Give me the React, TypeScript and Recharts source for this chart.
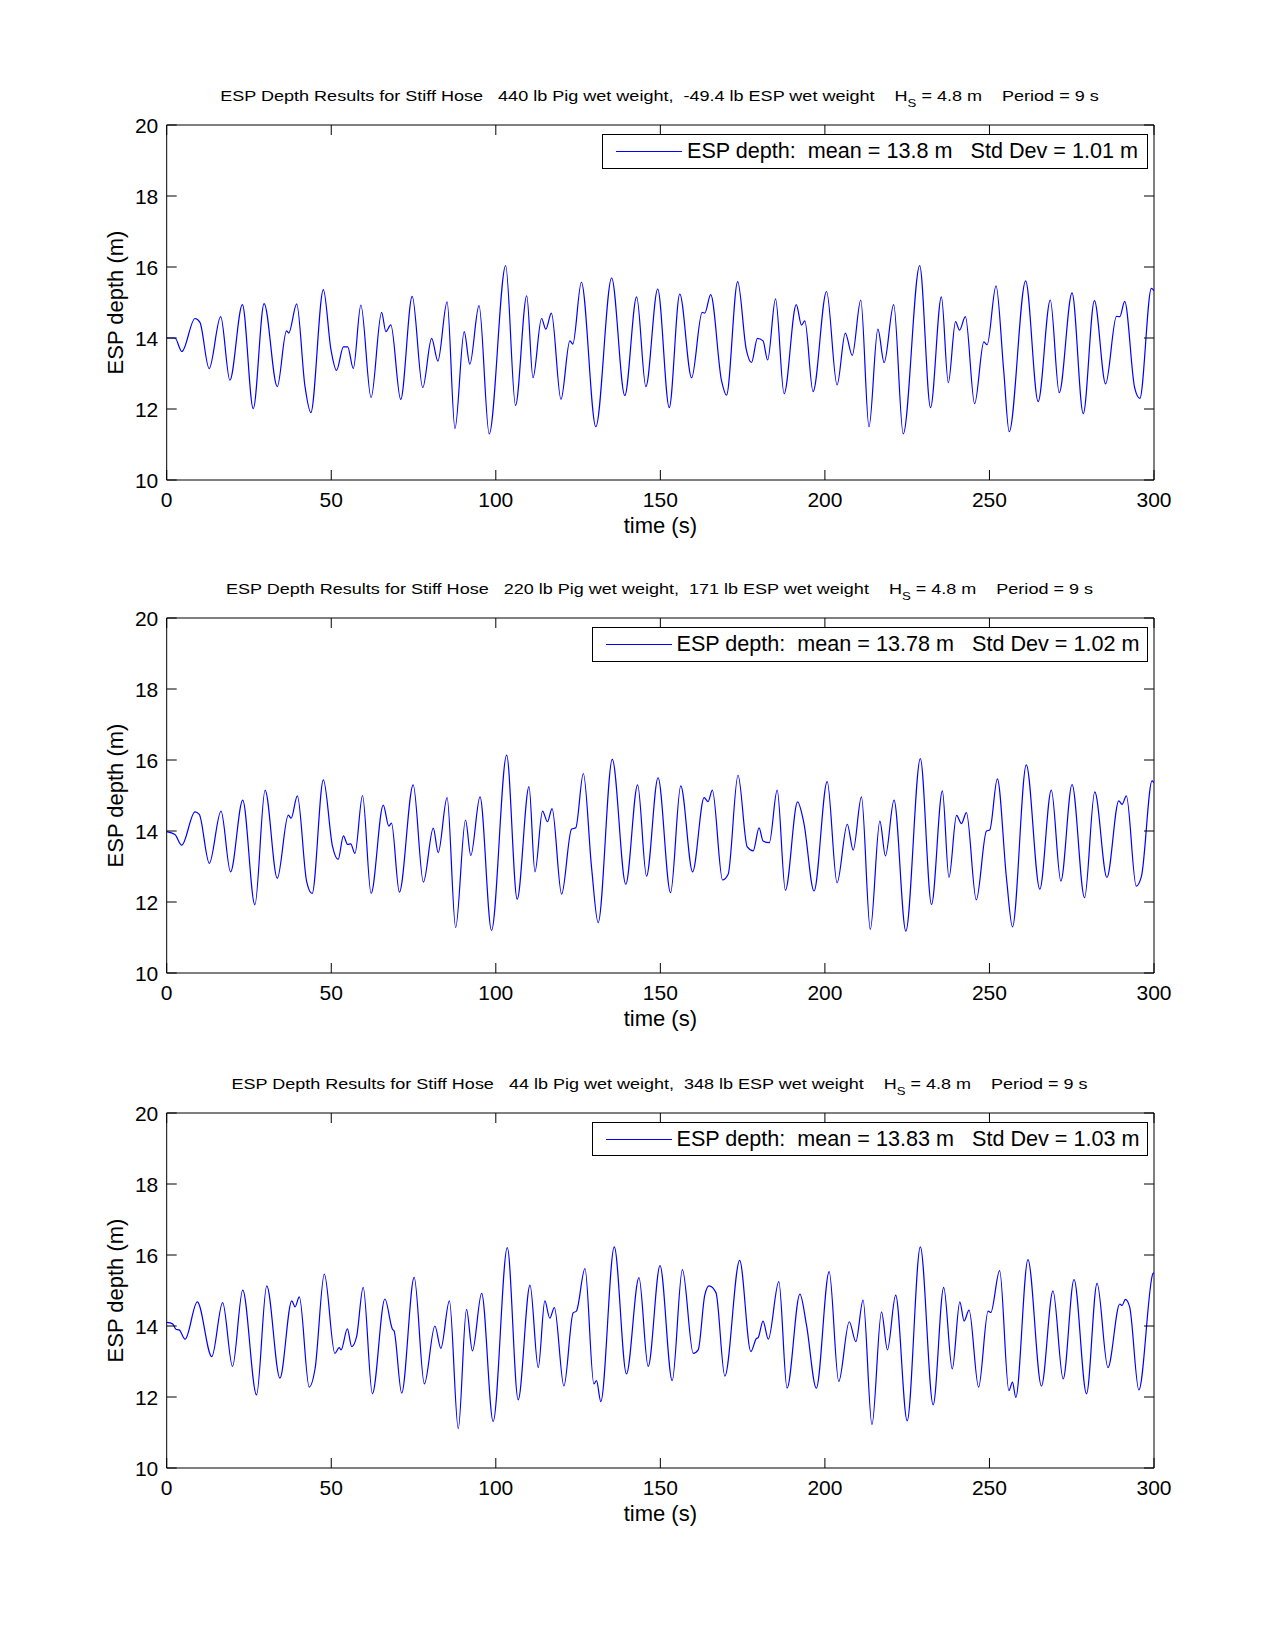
import React from 'react';
import { LineChart, Line, XAxis, YAxis, ReferenceArea, Legend } from 'recharts';

// ---------- data ----------
const TIME_TICKS = [0, 50, 100, 150, 200, 250, 300];
const DEPTH_TICKS = [10, 12, 14, 16, 18, 20];

const pigWeights = ['440', '220', '44'];
const espWeights = ['-49.4', '171', '348'];
const meanDepths = ['13.8', '13.78', '13.83'];
const stdDevs = ['1.01', '1.02', '1.03'];

const time1 = [0, 2.5, 4.6, 8.6, 10.1, 12.9, 16.4, 19.2, 23.0, 26.3, 29.6, 33.6, 36.4, 37.1, 39.5, 42.0, 43.8, 47.6, 49.9, 51.6, 53.7, 55.0, 56.7, 59.0, 62.1, 65.3, 66.6, 68.1, 71.1, 74.6, 77.8, 80.5, 82.4, 85.2, 87.6, 90.4, 92.1, 94.9, 98.0, 103.0, 106.0, 109.4, 111.3, 113.9, 115.2, 116.9, 119.8, 122.5, 123.4, 126.0, 130.4, 135.2, 139.2, 142.8, 145.6, 149.2, 152.7, 155.9, 159.5, 162.7, 163.5, 165.3, 168.6, 170.1, 173.5, 176.1, 177.7, 179.5, 181.2, 182.6, 185.0, 187.6, 191.3, 192.9, 193.9, 196.4, 200.5, 203.7, 206.2, 208.3, 210.9, 213.4, 216.1, 218.0, 220.9, 223.8, 228.8, 232.1, 235.4, 237.5, 239.7, 240.9, 242.7, 245.5, 248.3, 249.3, 252.0, 254.3, 256.0, 261.0, 264.8, 268.5, 271.2, 275.1, 278.5, 281.9, 285.3, 288.6, 289.6, 291.1, 294.1, 295.7, 299.2, 300];
const depth1 = [14.0, 14.0, 13.62, 14.55, 14.44, 13.14, 14.6, 12.81, 14.94, 12.01, 14.97, 12.63, 14.2, 14.14, 14.96, 12.65, 11.9, 15.36, 13.68, 13.09, 13.75, 13.75, 13.14, 14.93, 12.32, 14.72, 14.18, 14.37, 12.27, 15.17, 12.6, 13.99, 13.35, 15.02, 11.45, 14.18, 13.26, 14.91, 11.3, 16.04, 12.1, 15.19, 12.88, 14.55, 14.25, 14.7, 12.27, 13.92, 13.83, 15.57, 11.5, 15.69, 12.38, 15.16, 12.63, 15.38, 12.04, 15.24, 12.88, 14.72, 14.7, 15.22, 12.79, 12.39, 15.59, 13.68, 13.31, 13.99, 13.92, 13.38, 15.1, 12.43, 14.94, 14.36, 14.48, 12.49, 15.31, 12.68, 14.14, 13.51, 15.07, 11.5, 14.25, 13.31, 14.94, 11.3, 16.04, 12.04, 15.16, 12.74, 14.46, 14.22, 14.6, 12.15, 13.89, 13.81, 15.47, 13.12, 11.36, 15.61, 12.21, 15.07, 12.46, 15.27, 11.87, 15.05, 12.71, 14.61, 14.6, 15.03, 12.61, 12.3, 15.4, 15.33];

const time2 = [0, 2.5, 4.55, 8.6, 9.9, 12.95, 16.5, 19.4, 23.1, 26.8, 29.9, 33.6, 36.95, 37.8, 39.7, 42.5, 44.2, 47.6, 50.4, 52.1, 53.7, 55.0, 55.9, 57.2, 59.5, 62.1, 65.8, 67.5, 68.3, 70.7, 74.9, 78.0, 81.0, 82.5, 85.2, 87.8, 90.8, 92.4, 95.2, 98.7, 103.3, 106.5, 110.1, 111.9, 114.2, 115.7, 117.1, 120.0, 123.0, 124.3, 126.6, 129.1, 131.1, 135.4, 139.5, 143.1, 145.8, 149.3, 153.1, 156.2, 159.8, 163.3, 164.5, 165.8, 168.9, 170.6, 173.6, 176.4, 178.2, 180.0, 181.2, 183.1, 185.5, 188.0, 191.7, 193.6, 196.7, 200.7, 203.7, 206.8, 208.6, 211.1, 213.8, 216.7, 218.4, 221.0, 224.6, 229.0, 232.4, 235.7, 237.7, 240.0, 241.5, 243.0, 246.0, 249.1, 250.1, 252.4, 255.2, 257.0, 261.2, 265.3, 268.8, 271.7, 275.1, 278.9, 282.0, 285.7, 289.3, 290.3, 291.6, 294.6, 296.2, 299.4, 300];
const depth2 = [13.98, 13.9, 13.6, 14.54, 14.47, 13.09, 14.56, 12.85, 14.87, 11.92, 15.15, 12.67, 14.45, 14.36, 14.99, 12.59, 12.24, 15.44, 13.56, 13.2, 13.86, 13.62, 13.64, 13.37, 15.0, 12.24, 14.73, 14.14, 14.22, 12.28, 15.3, 12.56, 14.08, 13.39, 14.94, 11.28, 14.31, 13.31, 14.96, 11.2, 16.14, 12.08, 15.25, 12.85, 14.56, 14.26, 14.63, 12.22, 14.05, 14.09, 15.62, 12.97, 11.42, 16.02, 12.5, 15.3, 12.73, 15.5, 12.26, 15.27, 12.85, 14.94, 14.83, 15.15, 12.62, 12.78, 15.57, 13.55, 13.44, 14.09, 13.72, 13.67, 15.15, 12.33, 14.82, 14.23, 12.31, 15.39, 12.54, 14.19, 13.46, 14.96, 11.23, 14.28, 13.3, 14.87, 11.18, 16.04, 11.93, 15.13, 12.69, 14.44, 14.21, 14.52, 12.06, 14.0, 14.03, 15.47, 12.64, 11.3, 15.86, 12.36, 15.15, 12.59, 15.31, 12.12, 15.1, 12.69, 14.85, 14.75, 14.99, 12.45, 12.73, 15.41, 15.36];

const time3 = [0, 1.8, 2.8, 3.8, 5.6, 9.3, 13.7, 17.0, 20.0, 23.1, 27.3, 30.4, 34.4, 38.0, 39.0, 40.3, 43.3, 45.1, 47.9, 51.1, 52.4, 53.0, 54.9, 56.2, 57.7, 59.7, 62.5, 66.3, 68.6, 69.1, 71.4, 75.2, 78.3, 81.5, 83.3, 85.9, 88.6, 91.1, 92.9, 95.7, 99.2, 103.5, 106.8, 110.4, 112.9, 114.9, 116.4, 117.8, 120.7, 123.5, 124.5, 127.1, 129.8, 130.6, 131.9, 136.0, 139.7, 143.5, 146.3, 149.9, 153.6, 156.7, 160.0, 161.5, 163.5, 164.8, 166.9, 169.6, 174.1, 177.5, 179.2, 179.7, 181.2, 182.8, 186.0, 188.5, 192.4, 194.4, 197.4, 201.3, 204.2, 207.4, 209.4, 211.6, 214.3, 217.2, 219.0, 221.5, 225.0, 229.0, 232.9, 236.1, 238.7, 241.0, 242.3, 243.8, 246.7, 249.6, 250.4, 253.1, 255.9, 257.0, 258.0, 261.7, 265.8, 269.3, 272.4, 275.7, 279.5, 282.7, 286.0, 289.6, 290.3, 291.3, 292.6, 295.4, 299.7, 300];
const depth3 = [14.1, 14.06, 13.91, 13.89, 13.63, 14.68, 13.14, 14.66, 12.86, 15.01, 12.06, 15.13, 12.53, 14.71, 14.54, 14.82, 12.28, 12.81, 15.46, 13.23, 13.39, 13.33, 13.92, 13.42, 13.7, 15.09, 12.09, 14.76, 13.91, 13.86, 12.11, 15.37, 12.37, 14.0, 13.37, 14.71, 11.11, 14.47, 13.3, 14.92, 11.31, 16.21, 11.92, 15.15, 12.83, 14.71, 14.22, 14.52, 12.31, 14.37, 14.42, 15.62, 12.37, 12.46, 11.87, 16.23, 12.65, 15.36, 12.86, 15.7, 12.46, 15.59, 13.23, 13.33, 14.87, 15.13, 14.94, 12.59, 15.85, 13.28, 13.65, 13.67, 14.14, 13.63, 15.25, 12.25, 14.9, 14.03, 12.25, 15.53, 12.44, 14.12, 13.56, 14.73, 11.22, 14.4, 13.33, 14.87, 11.33, 16.23, 11.78, 15.09, 12.79, 14.68, 14.14, 14.45, 12.28, 14.42, 14.38, 15.56, 12.18, 12.42, 11.99, 15.87, 12.31, 14.99, 12.51, 15.31, 12.09, 15.2, 12.83, 14.62, 14.58, 14.75, 14.54, 12.2, 15.48, 15.5];

const seriesTimes = [time1, time2, time3];
const seriesDepths = [depth1, depth2, depth3];

// ---------- layout ----------
const FONT = 'Arial, "Liberation Sans", Helvetica, sans-serif';
const CHART_W = 1275;
const CHART_H = 560;
const MARGIN = { top: 125, right: 121, bottom: 30, left: 66.7 };
const Y_AXIS_W = 100;
const X_AXIS_H = 50;
const PLOT_W = CHART_W - MARGIN.left - Y_AXIS_W - MARGIN.right;
const PLOT_H = CHART_H - MARGIN.top - MARGIN.bottom - X_AXIS_H;
const PANEL_TOPS = [0, 493, 987.6];
const TITLE_CENTER = 659.5;
const TITLE_WIDTHS = [878.5, 867, 856];
const LEGEND_WIDTHS = [545.5, 556, 556];
const LEGEND_RIGHT = 1147.5;
const LEGEND_TOP = 134;
const LEGEND_H = 34.5;
const TICK_LEN = 10;
const TICK_FONT = 21;

const XTick = (props: any) => {
  const { x, y, payload } = props;
  return (
    <g>
      <line x1={x} x2={x} y1={y} y2={y - TICK_LEN} stroke="#000" strokeWidth={1} />
      <line x1={x} x2={x} y1={y - PLOT_H} y2={y - PLOT_H + TICK_LEN} stroke="#000" strokeWidth={1} />
      <text x={x} y={y + 26.7} textAnchor="middle" fontSize={TICK_FONT} fill="#000" fontFamily={FONT}>
        {payload.value}
      </text>
    </g>
  );
};

const YTick = (props: any) => {
  const { x, y, payload } = props;
  return (
    <g>
      <line x1={x} x2={x + TICK_LEN} y1={y} y2={y} stroke="#000" strokeWidth={1} />
      <line x1={x + PLOT_W} x2={x + PLOT_W - TICK_LEN} y1={y} y2={y} stroke="#000" strokeWidth={1} />
      <text x={x - 8.4} y={y + 7.9} textAnchor="end" fontSize={TICK_FONT} fill="#000" fontFamily={FONT}>
        {payload.value}
      </text>
    </g>
  );
};

const XLabel = (props: any) => {
  const vb = props.viewBox || {};
  return (
    <text x={vb.x + vb.width / 2} y={vb.y + 53} textAnchor="middle" fontSize={22} fill="#000" fontFamily={FONT}>
      time (s)
    </text>
  );
};

const YLabel = (props: any) => {
  const vb = props.viewBox || {};
  const cx = vb.x + vb.width - 43.4;
  const cy = vb.y + vb.height / 2;
  return (
    <text x={cx} y={cy} transform={`rotate(-90 ${cx} ${cy})`} textAnchor="middle" fontSize={22} fill="#000" fontFamily={FONT}>
      ESP depth (m)
    </text>
  );
};

const makeLegend = (mean: string, sd: string, w: number) => () => (
  <div
    style={{
      position: 'relative',
      boxSizing: 'border-box',
      width: w,
      height: LEGEND_H,
      border: '1px solid #000',
      background: '#fff',
      fontFamily: FONT,
    }}
  >
    <div style={{ position: 'absolute', left: 13, top: 16, width: 66, height: 0, borderTop: '1px solid #0000ff' }} />
    <div
      style={{
        position: 'absolute',
        left: 84,
        top: 4,
        fontSize: 21.6,
        lineHeight: '24px',
        whiteSpace: 'pre',
        color: '#000',
      }}
    >
      {`ESP depth:  mean = ${mean} m   Std Dev = ${sd} m`}
    </div>
  </div>
);

const Title = ({ index }: { index: number }) => (
  <svg width={CHART_W} height={MARGIN.top} style={{ position: 'absolute', left: 0, top: 0 }}>
    <text
      x={TITLE_CENTER}
      y={100.5}
      textAnchor="middle"
      fontSize={15}
      fill="#000"
      fontFamily={FONT}
      style={{ whiteSpace: 'pre' }}
      textLength={TITLE_WIDTHS[index]}
      lengthAdjust="spacingAndGlyphs"
    >
      {`ESP Depth Results for Stiff Hose   ${pigWeights[index]} lb Pig wet weight,  ${espWeights[index]} lb ESP wet weight    H`}
      <tspan fontSize={11} dy={6}>S</tspan>
      <tspan dy={-6}>{` = 4.8 m    Period = 9 s`}</tspan>
    </text>
  </svg>
);

const Panel = ({ index }: { index: number }) => {
  const times = seriesTimes[index];
  const depths = seriesDepths[index];
  const data = times.map((t, i) => ({ t, v: depths[i] }));
  const lw = LEGEND_WIDTHS[index];
  return (
    <div style={{ position: 'absolute', left: 0, top: PANEL_TOPS[index], width: CHART_W, height: CHART_H }}>
      <Title index={index} />
      <div style={{ position: 'absolute', left: 0, top: 0 }}>
        <LineChart width={CHART_W} height={CHART_H} data={data} margin={MARGIN} style={{ fontFamily: FONT }}>
          <ReferenceArea x1={0} x2={300} y1={10} y2={20} fill="none" stroke="#000" strokeWidth={1} ifOverflow="visible" />
          <XAxis
            dataKey="t"
            type="number"
            domain={[0, 300]}
            ticks={TIME_TICKS}
            interval={0}
            height={X_AXIS_H}
            axisLine={false}
            tickLine={false}
            tickSize={0}
            tickMargin={0}
            tick={<XTick />}
            allowDataOverflow
            label={<XLabel />}
          />
          <YAxis
            type="number"
            domain={[10, 20]}
            ticks={DEPTH_TICKS}
            interval={0}
            width={Y_AXIS_W}
            axisLine={false}
            tickLine={false}
            tickSize={0}
            tickMargin={0}
            tick={<YTick />}
            allowDataOverflow
            label={<YLabel />}
          />
          <Legend
            layout="horizontal"
            align="center"
            verticalAlign="middle"
            content={makeLegend(meanDepths[index], stdDevs[index], lw)}
            wrapperStyle={{ left: LEGEND_RIGHT - lw, top: LEGEND_TOP, width: lw, height: LEGEND_H }}
          />
          <Line
            type="monotone"
            dataKey="v"
            stroke="#0000ff"
            strokeWidth={1.2}
            dot={false}
            activeDot={false}
            isAnimationActive={false}
          />
        </LineChart>
      </div>
    </div>
  );
};

export default function App() {
  return (
    <div
      style={{
        position: 'absolute',
        left: 0,
        top: 0,
        width: 1275,
        height: 1650,
        background: '#fff',
        fontFamily: FONT,
      }}
    >
      {[0, 1, 2].map((i) => (
        <Panel key={i} index={i} />
      ))}
    </div>
  );
}
